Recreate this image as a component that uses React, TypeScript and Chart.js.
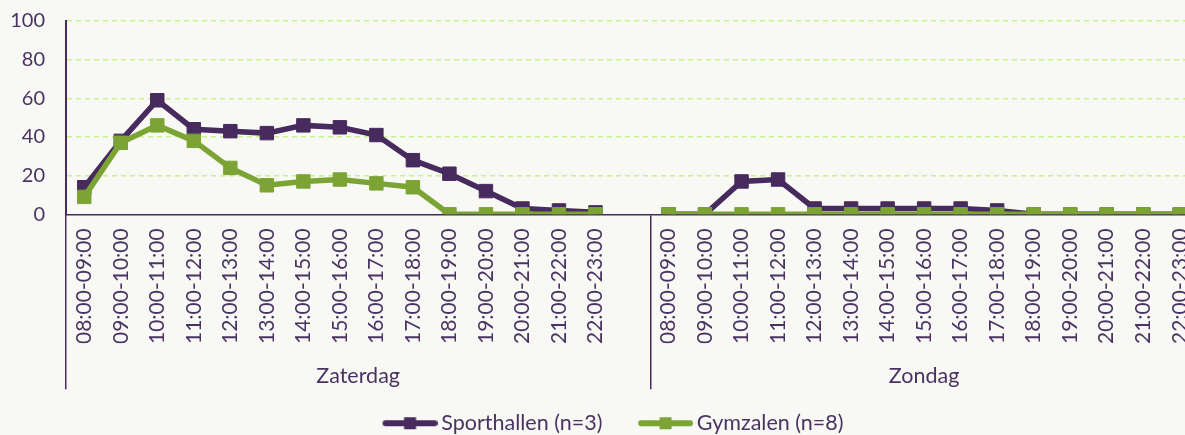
import React, { useEffect, useRef } from 'react';
import { Chart, registerables } from 'chart.js';

Chart.register(...registerables);

// ---- data ----
const dayLabels = ['Zaterdag', 'Zondag'];
const hourLabels = [
  '08:00-09:00', '09:00-10:00', '10:00-11:00', '11:00-12:00', '12:00-13:00',
  '13:00-14:00', '14:00-15:00', '15:00-16:00', '16:00-17:00', '17:00-18:00',
  '18:00-19:00', '19:00-20:00', '20:00-21:00', '21:00-22:00', '22:00-23:00',
];
const zaterdagSporthallen = [14, 38, 59, 44, 43, 42, 46, 45, 41, 28, 21, 12, 3, 2, 1];
const zaterdagGymzalen = [9, 37, 46, 38, 24, 15, 17, 18, 16, 14, 0, 0, 0, 0, 0];
const zondagSporthallen = [0, 0, 17, 18, 3, 3, 3, 3, 3, 2, 0, 0, 0, 0, 0];
const zondagGymzalen = [0, 0, 0, 0, 0, 0, 0, 0, 0, 0, 0, 0, 0, 0, 0];
const seriesNames = ['Sporthallen (n=3)', 'Gymzalen (n=8)'];
const yTicks = [0, 20, 40, 60, 80, 100];

// ---- styles ----
const BG = '#f8f8f4';
const PURPLE = '#472a5e';
const GREEN = '#7ca434';
const TEXT = '#4a3362';
const GRID = '#c8f28c';
const FONT = 'Lato';
const CANVAS_W = 1198;
const CANVAS_H = 444;

// one empty slot closes the Zaterdag group
const categories = [...hourLabels, '', ...hourLabels];
const sporthallenData = [...zaterdagSporthallen, null, ...zondagSporthallen];
const gymzalenData = [...zaterdagGymzalen, null, ...zondagGymzalen];
const groupSizes = [hourLabels.length + 1, hourLabels.length];
const groupStarts = [0, groupSizes[0]];
const groupCenters = groupStarts.map((s, i) => s + (groupSizes[i] - 1) / 2);

const LEG_BOX = 66;

function makeIcon(color: string): HTMLCanvasElement {
  const c = document.createElement('canvas');
  c.width = 80;
  c.height = 16;
  const g = c.getContext('2d')!;
  g.strokeStyle = color;
  g.lineWidth = 6;
  g.lineCap = 'round';
  g.beginPath();
  g.moveTo(28, 8);
  g.lineTo(77, 8);
  g.stroke();
  g.fillStyle = color;
  g.fillRect(52.5 - 6, 2, 12, 12);
  return c;
}

export default function App() {
  const ref = useRef<HTMLCanvasElement>(null);

  useEffect(() => {
    const canvas = ref.current!;
    const icons = [makeIcon(PURPLE), makeIcon(GREEN)];
    const chart = new Chart(canvas, {
      type: 'line',
      data: {
        labels: categories,
        datasets: [
          {
            label: seriesNames[0],
            data: sporthallenData,
            borderColor: PURPLE,
            backgroundColor: PURPLE,
            borderWidth: 5.5,
            pointStyle: 'rect',
            pointRadius: 9.5,
            pointBorderWidth: 1,
            pointBackgroundColor: PURPLE,
            pointBorderColor: PURPLE,
            tension: 0,
            spanGaps: false,
            order: 1,
          },
          {
            label: seriesNames[1],
            data: gymzalenData,
            borderColor: GREEN,
            backgroundColor: GREEN,
            borderWidth: 5.5,
            pointStyle: 'rect',
            pointRadius: 9.5,
            pointBorderWidth: 1,
            pointBackgroundColor: GREEN,
            pointBorderColor: GREEN,
            tension: 0,
            spanGaps: false,
            order: 0,
          },
        ],
      },
      options: {
        responsive: false,
        maintainAspectRatio: false,
        animation: false,
        events: [],
        layout: { autoPadding: false, padding: { left: 10, top: 21, right: 0, bottom: 0 } },
        plugins: {
          tooltip: { enabled: false },
          legend: {
            position: 'bottom',
            labels: {
              font: { family: FONT, size: 21.5 },
              color: TEXT,
              usePointStyle: true,
              pointStyleWidth: LEG_BOX,
              padding: 17.7,
              generateLabels: (ch: any) =>
                ch.data.datasets.map((ds: any, i: number) => ({
                  text: ds.label,
                  fillStyle: ds.borderColor,
                  strokeStyle: ds.borderColor,
                  lineWidth: 0,
                  pointStyle: icons[i],
                  hidden: false,
                  datasetIndex: i,
                  fontColor: TEXT,
                })),
            },
          },
        },
        scales: {
          y: {
            min: 0,
            max: 100,
            afterBuildTicks: (axis: any) => {
              axis.ticks = yTicks.map((v) => ({ value: v }));
            },
            afterFit: (axis: any) => {
              axis.width = 56;
              axis.paddingTop = 0;
              axis.paddingBottom = 0;
            },
            ticks: {
              font: { family: FONT, size: 20 },
              color: TEXT,
              padding: 21,
            },
            grid: {
              drawTicks: false,
              lineWidth: 1.5,
              color: (ctx: any) => (ctx.tick && ctx.tick.value === 0 ? 'transparent' : GRID),
            },
            border: { display: true, color: PURPLE, width: 2, dash: [5, 4] },
          },
          x: {
            type: 'category',
            offset: true,
            weight: 0,
            afterFit: (axis: any) => {
              axis.height = 129;
              axis.paddingLeft = 0;
              axis.paddingRight = 0;
            },
            ticks: {
              autoSkip: false,
              maxRotation: 90,
              minRotation: 90,
              font: { family: FONT, size: 21 },
              color: TEXT,
              padding: -161,
            },
            grid: {
              offset: true,
              drawOnChartArea: false,
              drawTicks: true,
              tickLength: 175,
              lineWidth: 1.5,
              color: (ctx: any) =>
                groupStarts.includes(ctx.index) ? PURPLE : 'transparent',
            },
            border: { display: true, color: PURPLE, width: 1.5 },
          },
          x2: {
            type: 'linear',
            position: 'bottom',
            weight: 1,
            min: -0.5,
            max: categories.length - 0.5,
            afterBuildTicks: (axis: any) => {
              axis.ticks = groupCenters.map((v) => ({ value: v }));
            },
            afterFit: (axis: any) => {
              axis.height = 51.5;
              axis.paddingLeft = 0;
              axis.paddingRight = 0;
            },
            ticks: {
              autoSkip: false,
              maxRotation: 0,
              minRotation: 0,
              font: { family: FONT, size: 21.5 },
              color: TEXT,
              padding: 20,
              callback: (v: any) => dayLabels[groupCenters.indexOf(Number(v))] ?? '',
            },
            grid: { display: false, drawTicks: false },
            border: { display: false },
          },
        },
      } as any,
    });
    return () => chart.destroy();
  }, []);

  return (
    <div
      style={{
        position: 'fixed',
        left: 0,
        top: 0,
        width: 1185,
        height: 435,
        overflow: 'hidden',
        background: BG,
      }}
    >
      <div style={{ width: CANVAS_W, height: CANVAS_H, position: 'relative' }}>
        <canvas
          ref={ref}
          width={CANVAS_W}
          height={CANVAS_H}
          style={{ display: 'block', width: CANVAS_W, height: CANVAS_H }}
        />
      </div>
    </div>
  );
}
